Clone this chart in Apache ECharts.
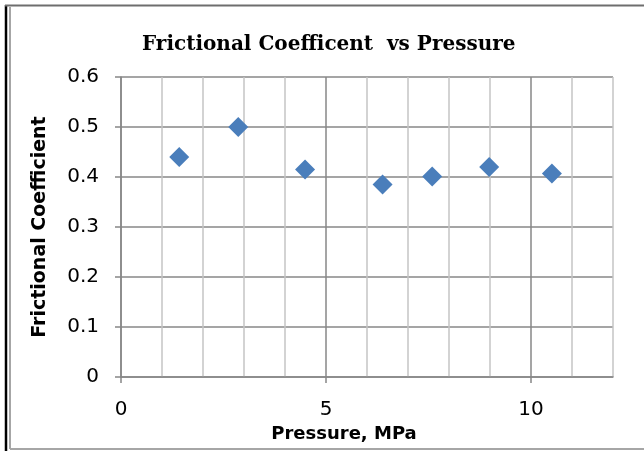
<!DOCTYPE html>
<html>
<head>
<meta charset="utf-8">
<script src="https://cdn.jsdelivr.net/npm/echarts@6/dist/echarts.min.js"></script>
<style>html,body{margin:0;padding:0;background:#fff}#c{width:644px;height:451px}</style>
</head>
<body>
<div id="c"></div>
<script>
const pressure = [1.42, 2.86, 4.49, 6.38, 7.59, 8.98, 10.51];
const friction = [0.44, 0.50, 0.415, 0.385, 0.401, 0.42, 0.407];
const xLabelTicks = [0, 5, 10];
const titleText = 'Frictional Coefficent  vs Pressure';
const xName = 'Pressure, MPa';
const yName = 'Frictional Coefficient';

const chart = echarts.init(document.getElementById('c'), null, {renderer: 'canvas'});
const sans = '"DejaVu Sans", sans-serif';
const major = '#878787', minor = '#c4c4c4';
chart.setOption({
  animation: false,
  backgroundColor: '#fff',
  title: {
    text: titleText, left: 137, top: 30,
    textStyle: {fontFamily: '"DejaVu Serif", serif', fontWeight: 'bold', fontSize: 20, color: '#000'}
  },
  grid: {left: 121, right: 31, top: 77, bottom: 74},
  xAxis: [{
    type: 'value', min: 0, max: 12, interval: 1, position: 'bottom',
    axisLine: {show: true, lineStyle: {color: major, width: 1.5}},
    axisTick: {show: false},
    axisLabel: {show: false},
    splitLine: {show: true, lineStyle: {color: [major, minor, minor, minor, minor], width: 1.5}}
  }, {
    type: 'value', min: 0, max: 12, interval: 5, position: 'bottom', offset: 0,
    name: xName, nameLocation: 'middle', nameGap: 39,
    nameTextStyle: {fontFamily: sans, fontWeight: 'bold', fontSize: 18, color: '#000', padding: [0, 46, 0, 0]},
    axisLine: {show: false},
    axisTick: {show: true, length: 6, lineStyle: {color: major, width: 1.5}, customValues: xLabelTicks},
    axisLabel: {margin: 23, fontFamily: sans, fontSize: 20, color: '#000', customValues: xLabelTicks},
    splitLine: {show: false}
  }],
  yAxis: {
    type: 'value', min: 0, max: 0.6, interval: 0.1,
    name: yName, nameLocation: 'middle', nameGap: 71, nameRotate: 90,
    nameTextStyle: {fontFamily: sans, fontWeight: 'bold', fontSize: 19, color: '#000'},
    axisLine: {show: true, lineStyle: {color: major, width: 1.5}},
    axisTick: {show: true, length: 6, lineStyle: {color: major, width: 1.5}},
    axisLabel: {margin: 22, fontFamily: sans, fontSize: 20, color: '#000',
      formatter: v => (v === 0 ? '0' : v.toFixed(1))},
    splitLine: {show: true, lineStyle: {color: major, width: 1.5}}
  },
  series: [{
    type: 'scatter',
    xAxisIndex: 0,
    data: pressure.map((x, i) => [x, friction[i]]),
    symbol: 'diamond', symbolSize: [20, 20],
    itemStyle: {color: '#4a7ebb', opacity: 1}
  }],
  graphic: [
    {type: 'line', shape: {x1: 6, y1: 5, x2: 6, y2: 451}, style: {stroke: '#000', lineWidth: 2.5}, silent: true},
    {type: 'line', shape: {x1: 5, y1: 5.5, x2: 644, y2: 5.5}, style: {stroke: '#6e6e6e', lineWidth: 2}, silent: true},
    {type: 'line', shape: {x1: 10, y1: 7, x2: 10, y2: 449}, style: {stroke: '#a6a6a6', lineWidth: 2}, silent: true},
    {type: 'line', shape: {x1: 10, y1: 449, x2: 644, y2: 449}, style: {stroke: '#a6a6a6', lineWidth: 2}, silent: true}
  ]
});
</script>
</body>
</html>
